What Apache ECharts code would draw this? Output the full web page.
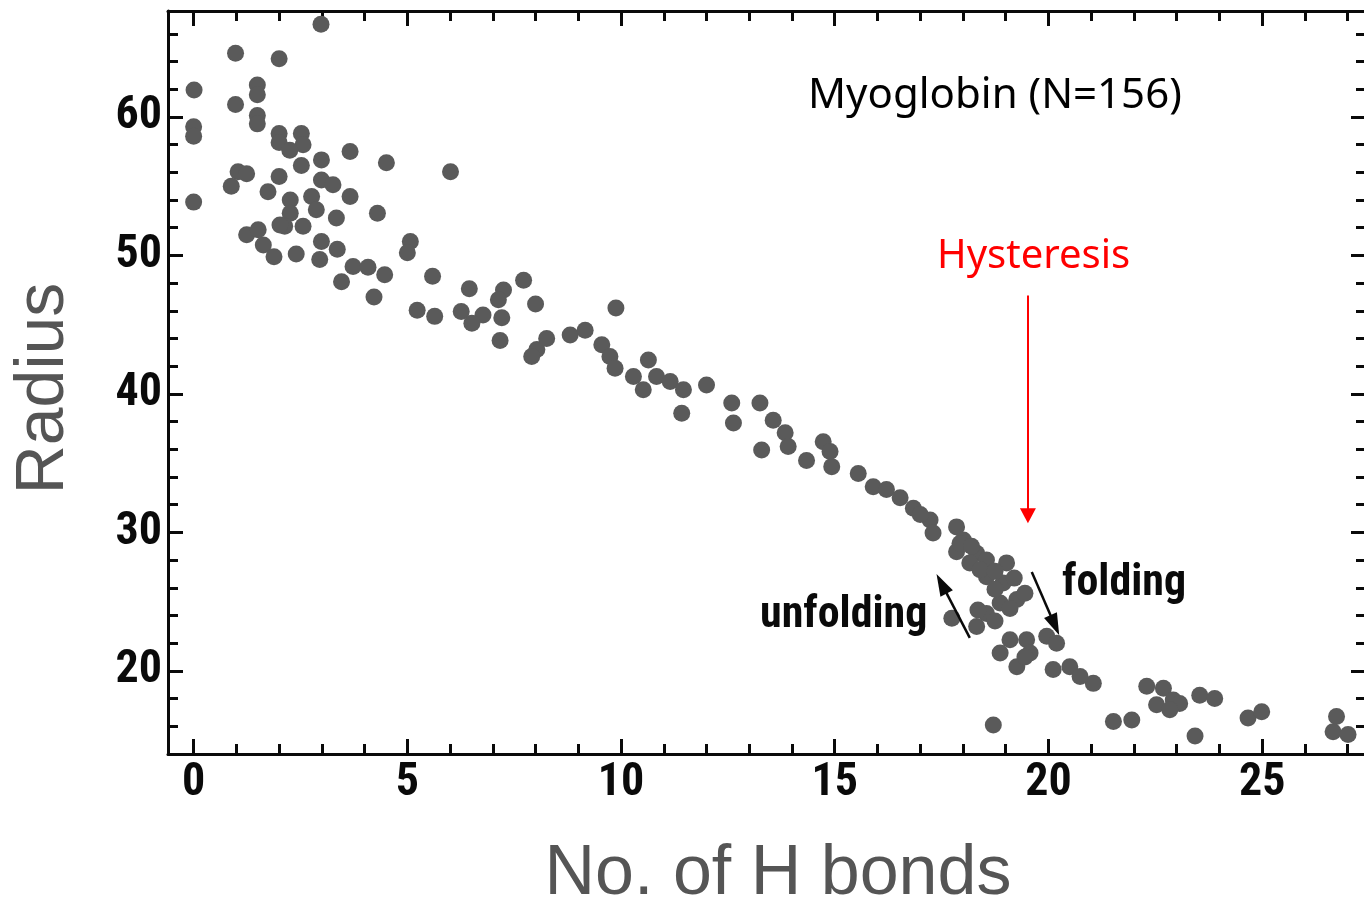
<!DOCTYPE html>
<html>
<head>
<meta charset="utf-8">
<title>Myoglobin radius vs H bonds</title>
<script src="https://cdn.jsdelivr.net/npm/echarts@6/dist/echarts.min.js"></script>
<style>
  html, body { margin: 0; padding: 0; background: #fff; }
  #chart { width: 1364px; height: 906px; }
</style>
</head>
<body>
<div id="chart"></div>
<script>
// Number of hydrogen bonds for each sampled conformation
const hbonds = [
  2.98, 0.98, 2.0, 0.01, 1.49, 1.49, 0.98, 1.49, 1.49, 0.0,
  0.0, 2.0, 2.0, 2.52, 2.56, 2.52, 2.25, 2.99, 3.66, 4.51,
  6.01, 1.04, 1.24, 0.88, 2.0, 1.74, 2.99, 3.26, 0.0, 2.76,
  2.87, 3.66, 2.26, 2.26, 2.13, 4.3, 3.34, 2.56, 2.02, 1.24,
  1.51, 1.63, 1.88, 2.4, 2.99, 3.36, 2.95, 5.07, 5.0, 3.73,
  4.08, 4.47, 3.46, 4.22, 5.59, 6.45, 5.23, 5.64, 6.26, 6.77,
  7.25, 7.13, 7.72, 8.0, 7.21, 6.51, 7.17, 9.88, 8.03, 8.26,
  7.91, 8.81, 9.16, 9.55, 9.74, 9.86, 10.29, 10.52, 10.64, 10.83,
  11.15, 11.46, 11.42, 12.0, 12.59, 12.63, 13.25, 13.56, 13.84, 13.29,
  13.91, 14.34, 14.73, 14.93, 14.89, 15.55, 15.9, 16.21, 16.53, 16.84,
  17.23, 17.3, 17.85, 18.01, 18.32, 17.85, 17.93, 18.16, 18.55, 18.55,
  19.02, 18.94, 19.26, 18.87, 18.55, 18.32, 17.74, 19.1, 19.49, 18.87,
  19.26, 19.57, 19.96, 20.19, 20.11, 20.5, 21.05, 20.74, 18.71, 21.52,
  21.95, 22.3, 22.69, 22.53, 22.92, 23.07, 22.84, 23.43, 23.54, 23.89,
  24.67, 24.99, 26.74, 26.66, 27.01, 18.2, 18.4, 18.75, 18.75, 19.2,
  19.45, 19.1, 18.35, 18.75, 17.0, 19.45
];

// Radius of the same conformations
const radius = [
  66.7, 64.6, 64.2, 61.95, 62.3, 61.6, 60.9, 60.1, 59.5, 59.3,
  58.6, 58.8, 58.15, 58.8, 58.0, 56.5, 57.6, 56.9, 57.5, 56.7,
  56.05, 56.05, 55.9, 55.0, 55.7, 54.6, 55.45, 55.1, 53.85, 54.25,
  53.3, 54.25, 54.0, 53.05, 52.1, 53.05, 52.7, 52.1, 52.2, 51.5,
  51.85, 50.75, 49.9, 50.1, 51.0, 50.45, 49.7, 51.0, 50.2, 49.2,
  49.15, 48.6, 48.1, 47.0, 48.5, 47.6, 46.05, 45.6, 45.95, 45.7,
  47.5, 46.8, 48.2, 46.5, 45.5, 45.1, 43.85, 46.2, 43.2, 44.0,
  42.7, 44.25, 44.6, 43.55, 42.7, 41.85, 41.25, 40.3, 42.45, 41.25,
  40.9, 40.3, 38.6, 40.65, 39.35, 37.9, 39.35, 38.1, 37.2, 35.95,
  36.2, 35.2, 36.55, 34.75, 35.85, 34.25, 33.3, 33.1, 32.5, 31.75,
  30.9, 29.95, 30.4, 29.45, 28.5, 28.6, 29.2, 27.8, 28.0, 26.8,
  27.8, 26.35, 25.15, 24.9, 24.15, 23.2, 23.8, 22.25, 22.25, 21.3,
  20.3, 21.3, 22.5, 22.0, 20.1, 20.3, 19.1, 19.6, 16.1, 16.35,
  16.45, 18.9, 18.75, 17.55, 17.9, 17.65, 17.2, 15.3, 18.25, 18.0,
  16.6, 17.05, 16.7, 15.6, 15.4, 29.0, 27.3, 27.2, 25.9, 26.7,
  25.6, 24.5, 24.4, 23.6, 31.3, 21.0
];

// Axis ranges
const xRange = [-0.6, 27.43];
const yRange = [14, 67.65];

// Annotation arrows: [from, to] in data units
const hysteresisArrow = [[19.52, 47.1], [19.52, 31.2]];
const unfoldingArrow = [[18.16, 22.38], [17.5, 26.3]];
const foldingArrow = [[19.61, 27.15], [20.15, 23.3]];

const points = hbonds.map((h, i) => [h, radius[i]]);

const tickFont = "'Liberation Sans Narrow', 'Noto Sans ExtraCondensed', 'Noto Sans Condensed', 'Roboto Condensed', 'Open Sans Condensed', 'DejaVu Sans Condensed', sans-serif";
const titleFont = "'Liberation Sans', Arial, sans-serif";
const noteFont = "'Noto Sans', 'Open Sans', sans-serif";

function frameAxis(pos, range, minorSplit, showLabel, labelExtra) {
  return {
    type: 'value',
    position: pos,
    min: range[0],
    max: range[1],
    splitNumber: 5,
    axisLine: { show: true, onZero: false, lineStyle: { color: '#0a0a0a', width: 3 } },
    axisTick: { show: true, inside: true, length: 15, lineStyle: { color: '#0a0a0a', width: 3 } },
    minorTick: { show: true, splitNumber: minorSplit, length: 10, lineStyle: { color: '#0a0a0a', width: 3 } },
    splitLine: { show: false },
    minorSplitLine: { show: false },
    axisLabel: Object.assign({
      show: showLabel,
      showMinLabel: false,
      showMaxLabel: false,
      color: '#0a0a0a',
      fontFamily: tickFont,
      fontWeight: 'bold',
      fontSize: 46
    }, labelExtra || {})
  };
}

const chart = echarts.init(document.getElementById('chart'), null, { renderer: 'canvas' });

const xBottom = frameAxis('bottom', xRange, 5, true, { margin: 6 });
xBottom.name = 'No. of H bonds';
xBottom.nameLocation = 'middle';
xBottom.nameGap = 86;
xBottom.nameTextStyle = { fontFamily: titleFont, fontSize: 70, color: '#555555', padding: [0, 0, 0, 22] };

const yLeft = frameAxis('left', yRange, 5, true, { margin: 6, padding: [0, 0, 14, 0] });
yLeft.name = 'Radius';
yLeft.nameLocation = 'middle';
yLeft.nameGap = 90;
yLeft.nameTextStyle = { fontFamily: titleFont, fontSize: 68, color: '#555555', padding: [0, 12, 0, 0] };

const xTop = frameAxis('top', xRange, 5, false);
const yRight = frameAxis('right', yRange, 5, false);

const arrows = [
  { coords: hysteresisArrow, color: '#ff0000', width: 2, head: [16, 15] },
  { coords: unfoldingArrow, color: '#0a0a0a', width: 2.5, head: [14, 22] },
  { coords: foldingArrow, color: '#0a0a0a', width: 2.5, head: [14, 22] }
];

chart.setOption({
  animation: false,
  backgroundColor: '#ffffff',
  grid: { left: 168, top: 11, width: 1198, height: 743, containLabel: false, outerBoundsMode: 'none' },
  xAxis: [xBottom, xTop],
  yAxis: [yLeft, yRight],
  series: [{
    name: 'Myoglobin',
    type: 'scatter',
    xAxisIndex: 0,
    yAxisIndex: 0,
    data: points,
    symbol: 'circle',
    symbolSize: 17,
    itemStyle: { color: '#5a5a5a', opacity: 1 },
    markLine: {
      silent: true,
      symbol: ['none', 'triangle'],
      lineStyle: { type: 'solid' },
      label: { show: false },
      data: arrows.map(a => [
        { coord: a.coords[0], lineStyle: { color: a.color, width: a.width, type: 'solid' }, itemStyle: { color: a.color } },
        { coord: a.coords[1], symbolSize: a.head, itemStyle: { color: a.color } }
      ])
    }
  }],
  graphic: [
    {
      type: 'text', left: 808, top: 75,
      style: { text: 'Myoglobin (N=156)', fontFamily: noteFont, fontSize: 42, fill: '#000000' }
    },
    {
      type: 'text', left: 937, top: 237,
      style: { text: 'Hysteresis', fontFamily: noteFont, fontSize: 40, fill: '#ff0000' }
    },
    {
      type: 'text', left: 760, top: 594,
      style: { text: 'unfolding', fontFamily: tickFont, fontWeight: 'bold', fontSize: 44, fill: '#0a0a0a' }
    },
    {
      type: 'text', left: 1062, top: 562,
      style: { text: 'folding', fontFamily: tickFont, fontWeight: 'bold', fontSize: 44, fill: '#0a0a0a' }
    }
  ]
});
</script>
</body>
</html>
